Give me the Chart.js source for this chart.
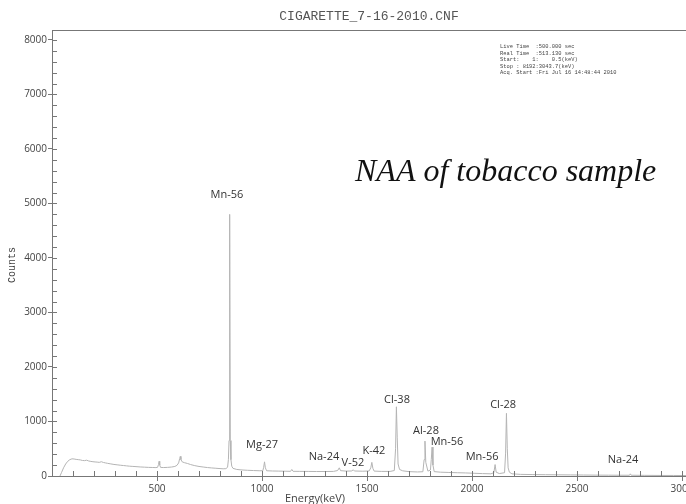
<!DOCTYPE html>
<html>
<head>
<meta charset="utf-8">
<title>CIGARETTE_7-16-2010.CNF</title>
<script src="https://cdn.jsdelivr.net/npm/chart.js@4.4.1/dist/chart.umd.min.js"></script>
<style>
    html, body { margin: 0; padding: 0; background: #fff; }
    #wrap { width: 686px; height: 504px; }
</style>
</head>
<body>
<div id="wrap"><canvas id="myChart" width="686" height="504"></canvas></div>
<script>
// Spectrum (energy in keV, counts)
const energies = [38, 45, 55, 65, 75, 85, 95, 105, 115, 125, 135, 145, 155, 165, 175, 185, 195, 205, 215, 225,
    235, 245, 255, 265, 280, 295, 310, 325, 340, 355, 370, 385, 400, 420, 440, 460, 480, 495, 503, 507,
    510, 513, 517, 530, 550, 570, 585, 595, 603, 608, 611, 614, 620, 630, 645, 660, 680, 700, 720, 740,
    760, 780, 800, 815, 828, 836, 840, 843, 846, 849, 852, 856, 862, 880, 900, 930, 960, 990, 1004, 1008,
    1012, 1016, 1022, 1050, 1080, 1110, 1136, 1142, 1148, 1180, 1220, 1260, 1300, 1340, 1360, 1368, 1374, 1400, 1428, 1434,
    1440, 1480, 1510, 1518, 1523, 1528, 1534, 1570, 1610, 1630, 1636, 1640, 1644, 1648, 1655, 1670, 1700, 1740, 1766, 1772,
    1776, 1780, 1790, 1802, 1806, 1810, 1814, 1820, 1850, 1890, 1930, 1970, 2010, 2050, 2090, 2104, 2110, 2115, 2130, 2155,
    2160, 2164, 2168, 2172, 2178, 2190, 2230, 2290, 2350, 2410, 2470, 2530, 2590, 2650, 2700, 2750, 2754, 2758, 2820, 2900,
    2960, 3019];
const counts = [0, 60, 150, 220, 270, 300, 315, 312, 305, 300, 295, 285, 282, 290, 275, 268, 262, 258, 255, 250,
    262, 248, 240, 232, 222, 212, 205, 198, 192, 186, 180, 176, 172, 166, 162, 158, 156, 154, 160, 210,
    270, 200, 158, 155, 158, 165, 175, 195, 240, 320, 360, 300, 260, 245, 230, 210, 190, 175, 165, 155,
    148, 142, 136, 132, 135, 160, 300, 650, 4800, 650, 300, 180, 140, 120, 112, 105, 100, 96, 98, 160,
    260, 150, 96, 92, 90, 88, 86, 120, 86, 85, 84, 82, 82, 84, 100, 150, 98, 90, 92, 115,
    92, 88, 92, 150, 250, 140, 90, 84, 84, 100, 500, 1270, 700, 220, 120, 95, 80, 74, 78, 300,
    640, 250, 90, 110, 300, 530, 200, 80, 70, 65, 60, 56, 50, 44, 40, 60, 210, 70, 45, 60,
    420, 1150, 500, 150, 70, 40, 30, 26, 24, 22, 20, 18, 16, 15, 14, 14, 40, 14, 12, 10,
    10, 8];

// Peak labels and where they sit (data units, centre of text)
const peakNames = ["Mn-56", "Mg-27", "Na-24", "V-52", "K-42", "Cl-38", "Al-28", "Mn-56", "Mn-56", "Cl-28", "Na-24"];
const peakLabelE = [833, 1000, 1295, 1433, 1533, 1643, 1781, 1881, 2048, 2148, 2719];
const peakLabelC = [5156, 569, 349, 239, 459, 1394, 826, 624, 349, 1303, 294];

// Tick values: labelled ones and the small ones between them
const yLabelTicks = [0, 1000, 2000, 3000, 4000, 5000, 6000, 7000, 8000];
const xLabelTicks = [500, 1000, 1500, 2000, 2500, 3000];
const yMinorStep = 200;
const xMinorStep = 100;

// Acquisition info block
const infoLines = [
    "Live Time  :500.000 sec",
    "Real Time  :513.130 sec",
    "Start:    1:    0.5(keV)",
    "Stop : 8192:3043.7(keV)",
    "Acq. Start :Fri Jul 16 14:48:44 2010"
];

const xMax = 3019;
const yMax = 8183;

const spectrum = energies.map((e, i) => ({ x: e, y: counts[i] }));

function stepTicks(max, step, majors) {
    let ticks = [];
    for (let v = 0; v <= max; v += step) {
        ticks.push({ value: v, major: majors.includes(v) });
    }
    return ticks;
}

// draws the inner ticks, labels, and the extra texts
const extrasPlugin = {
    id: 'extras',
    afterDraw(chart) {
        const ctx = chart.ctx;
        const area = chart.chartArea;
        const xs = chart.scales.x;
        const ys = chart.scales.y;

        ctx.save();
        ctx.strokeStyle = '#777';
        ctx.lineWidth = 1;
        ctx.beginPath();
        ys.ticks.forEach(t => {
            const py = Math.round(ys.getPixelForValue(t.value)) + 0.5;
            ctx.moveTo(area.left, py);
            ctx.lineTo(area.left + 5, py);
        });
        xs.ticks.forEach(t => {
            const px = Math.round(xs.getPixelForValue(t.value)) + 0.5;
            ctx.moveTo(px, area.bottom);
            ctx.lineTo(px, area.bottom - 5);
        });
        // top frame line
        ctx.moveTo(area.left, area.top + 0.5);
        ctx.lineTo(area.right, area.top + 0.5);
        ctx.stroke();

        // peak labels
        ctx.fillStyle = '#333';
        ctx.font = '11px "Open Sans", sans-serif';
        ctx.textAlign = 'center';
        ctx.textBaseline = 'middle';
        peakNames.forEach((name, i) => {
            ctx.fillText(name, xs.getPixelForValue(peakLabelE[i]), ys.getPixelForValue(peakLabelC[i]));
        });

        // file title
        ctx.fillStyle = '#555';
        ctx.font = '13px "Liberation Mono", monospace';
        ctx.fillText('CIGARETTE_7-16-2010.CNF', (area.left + area.right) / 2, 17);

        // info block
        ctx.font = '5.4px "Liberation Mono", monospace';
        ctx.textAlign = 'left';
        ctx.fillStyle = '#444';
        infoLines.forEach((line, i) => {
            ctx.fillText(line, 500, 46.5 + i * 6.6);
        });

        // sample caption
        ctx.fillStyle = '#111';
        ctx.font = 'italic 32px "Liberation Serif", serif';
        ctx.textAlign = 'left';
        ctx.textBaseline = 'alphabetic';
        ctx.fillText('NAA of tobacco sample', 355, 181);

        // axis titles
        ctx.fillStyle = '#444';
        ctx.font = '10px "Liberation Mono", monospace';
        ctx.textAlign = 'center';
        ctx.textBaseline = 'middle';
        ctx.save();
        ctx.translate(12, 265);
        ctx.rotate(-Math.PI / 2);
        ctx.fillText('Counts', 0, 0);
        ctx.restore();
        ctx.font = '11px "Open Sans", sans-serif';
        ctx.fillText('Energy(keV)', 315, 499);
        ctx.restore();
    }
};

const tickColor = ctx => (ctx.tick && ctx.tick.major) ? '#777' : 'rgba(0,0,0,0)';

let ctx = document.getElementById('myChart').getContext('2d');
let spectrumChart = new Chart(ctx, {
    type: 'line',
    data: {
        datasets: [{
            label: 'Counts',
            data: spectrum,
            borderColor: '#b4b4b4',
            borderWidth: 1,
            pointRadius: 0,
            tension: 0,
            fill: false
        }]
    },
    options: {
        responsive: false,
        animation: false,
        layout: { padding: { top: 30, left: 0, right: 0, bottom: 0 } },
        plugins: {
            legend: { display: false },
            tooltip: { enabled: false }
        },
        scales: {
            x: {
                type: 'linear',
                min: 0,
                max: xMax,
                border: { color: '#777', width: 1 },
                grid: { drawOnChartArea: false, tickLength: 5, color: tickColor },
                ticks: {
                    autoSkip: false,
                    maxRotation: 0,
                    padding: 2,
                    color: '#444',
                    font: { family: '"Open Sans", sans-serif', size: 10 },
                    callback: v => xLabelTicks.includes(v) ? v : ''
                },
                afterBuildTicks: s => { s.ticks = stepTicks(xMax, xMinorStep, xLabelTicks); },
                afterFit: s => { s.height = 28; s.paddingLeft = 0; s.paddingRight = 0; }
            },
            y: {
                type: 'linear',
                min: 0,
                max: yMax,
                border: { color: '#777', width: 1 },
                grid: { drawOnChartArea: false, tickLength: 4, color: tickColor },
                ticks: {
                    autoSkip: false,
                    padding: 1,
                    color: '#444',
                    font: { family: '"Open Sans", sans-serif', size: 10 },
                    callback: v => yLabelTicks.includes(v) ? v : ''
                },
                afterBuildTicks: s => { s.ticks = stepTicks(yMax, yMinorStep, yLabelTicks); },
                afterFit: s => { s.width = 52; s.paddingTop = 0; s.paddingBottom = 0; }
            }
        }
    },
    plugins: [extrasPlugin]
});
</script>
</body>
</html>
